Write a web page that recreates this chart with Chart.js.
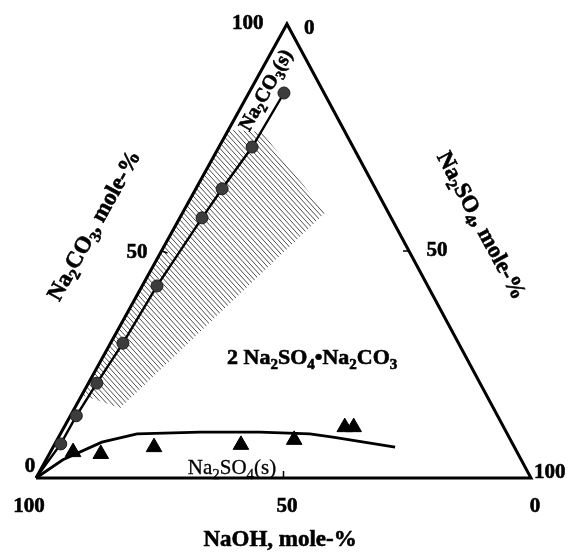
<!DOCTYPE html>
<html>
<head>
<meta charset="utf-8">
<script src="https://cdn.jsdelivr.net/npm/chart.js@4.4.1/dist/chart.umd.min.js"></script>
<style>
  html, body { margin: 0; padding: 0; background: #fff; }
  #wrap { width: 569px; height: 552px; }
</style>
</head>
<body>
<div id="wrap"><canvas id="ternary" width="569" height="552"></canvas></div>
<script>
// compositions in mole-% : Na2CO3 and Na2SO4 (NaOH is what is left)
const circleCO3 = [84.8, 72.9, 63.7, 57.3, 42.3, 29.7, 20.9, 13.7, 7.5];
const circleSO4 = [7.1, 6.7, 5.3, 4.5, 3.0, 2.5, 1.7, 1.2, 1.2];

const triangleCO3 = [5.7, 5.3, 6.8, 7.3, 8.4, 11.2, 11.2];
const triangleSO4 = [4.6, 10.4, 20.4, 37.7, 47.9, 56.7, 58.5];

// Na2CO3(s) line from the NaOH corner to the last circle
const co3LineCO3 = [0, 7.5, 13.7, 20.9, 29.7, 42.3, 57.3, 63.7, 72.9, 84.8];
const co3LineSO4 = [0, 1.2, 1.2, 1.7, 2.5, 3.0, 4.5, 5.3, 6.7, 7.1];

// Na2SO4(s) boundary
const curveCO3 = [0, 4.0, 7.9, 9.7, 10.1, 10.1, 9.7, 9.0, 6.8];
const curveSO4 = [0, 3.4, 9.3, 15.5, 28.0, 40.1, 50.4, 55.4, 69.1];

// hatched field
const hatchCO3 = [76.7, 76.2, 58.4, 15.4, 18.3];
const hatchSO4 = [0, 7.0, 28.8, 9.2, 0];

// corners NaOH -> Na2SO4 -> Na2CO3 -> NaOH
const cornerCO3 = [0, 0, 100, 0];
const cornerSO4 = [0, 100, 0, 0];

const tickValue = 50;

// the printed triangle leans a little: top corner sits at 50.7 % of the base
const SKEW = 0.507;
const toXY = (co3, so4) => ({ x: so4 + co3 * SKEW, y: co3 });
const pts = (co3, so4) => co3.map((c, i) => toXY(c, so4[i]));

const serif = '"Liberation Serif", "Times New Roman", serif';
const labels = [
  { text: "100", x: 42.8, y: 100.4, rot: 0, size: 21, bold: true },
  { text: "0", x: 55.2, y: 99.3, rot: 0, size: 21, bold: true },
  { text: "50", x: 20.4, y: 50.0, rot: 0, size: 21, bold: true },
  { text: "50", x: 81.0, y: 50.4, rot: 0, size: 21, bold: true },
  { text: "0", x: -1.2, y: 2.9, rot: 0, size: 21, bold: true },
  { text: "100", x: 103.8, y: 1.5, rot: 0, size: 21, bold: true },
  { text: "100", x: -1.4, y: -5.9, rot: 0, size: 21, bold: true },
  { text: "50", x: 50.7, y: -5.9, rot: 0, size: 21, bold: true },
  { text: "0", x: 100.8, y: -5.9, rot: 0, size: 21, bold: true },
  { text: "NaOH, mole-%", x: 49.3, y: -13.4, rot: 0, size: 23, bold: true },
  { text: "Na₂CO₃, mole-%", x: 11.6, y: 55.7, rot: -61, size: 23, bold: true },
  { text: "Na₂SO₄, mole-%", x: 90.1, y: 55.7, rot: 61.7, size: 23, bold: true },
  { text: "Na₂CO₃(s)", x: 46.3, y: 85.5, rot: -61, size: 20, bold: true },
  { text: "2 Na₂SO₄•Na₂CO₃", x: 55.8, y: 26.7, rot: 0, size: 22, bold: true },
  { text: "Na₂SO₄(s)", x: 39.6, y: 2.4, rot: 0, size: 21, bold: false },
];

const SUBS = "₀₁₂₃₄₅₆₇₈₉";

// splits a label into normal and subscript runs and draws it centred at 0,0
function drawRich(ctx, text, size, bold) {
  const runs = [];
  for (const ch of text) {
    const sub = SUBS.indexOf(ch);
    const isSub = sub >= 0;
    const c = isSub ? String(sub) : ch;
    const last = runs[runs.length - 1];
    if (last && last.sub === isSub) last.s += c;
    else runs.push({ s: c, sub: isSub });
  }
  const w = bold ? "bold " : "";
  const fMain = w + size + "px " + serif;
  const fSub = w + Math.round(size * 0.7) + "px " + serif;
  let total = 0;
  for (const r of runs) {
    ctx.font = r.sub ? fSub : fMain;
    r.w = ctx.measureText(r.s).width;
    total += r.w;
  }
  let x = -total / 2;
  ctx.textAlign = "left";
  ctx.textBaseline = "alphabetic";
  ctx.strokeStyle = "#000";
  ctx.lineWidth = bold ? 0.6 : 0.3;
  const base = size * 0.33;
  for (const r of runs) {
    ctx.font = r.sub ? fSub : fMain;
    const y = r.sub ? base + size * 0.22 : base;
    ctx.fillText(r.s, x, y);
    ctx.strokeText(r.s, x, y);
    x += r.w;
  }
}

function hatchPattern() {
  const c = document.createElement("canvas");
  c.width = 10;
  c.height = 11;
  const g = c.getContext("2d");
  g.strokeStyle = "#3a3a3a";
  g.lineWidth = 0.9;
  for (const x0 of [-10, -5, 0, 5, 10]) {
    g.beginPath();
    g.moveTo(x0, 0);
    g.lineTo(x0 + 10, 11);
    g.stroke();
  }
  return g.createPattern(c, "repeat");
}

const textPlugin = {
  id: "ternaryText",
  afterDraw(chart) {
    const ctx = chart.ctx;
    const sx = chart.scales.x, sy = chart.scales.y;
    // small ticks at 50 on each side
    ctx.save();
    ctx.strokeStyle = "#000";
    ctx.lineWidth = 1.5;
    const b = toXY(0, tickValue), l = toXY(tickValue, 0), r = toXY(tickValue, 100 - tickValue);
    const seg = (p, dx, dy) => {
      const x = sx.getPixelForValue(p.x), y = sy.getPixelForValue(p.y);
      ctx.beginPath();
      ctx.moveTo(x, y);
      ctx.lineTo(x + dx, y + dy);
      ctx.stroke();
    };
    seg(b, 0, -7);
    seg(l, 6, 2);
    seg(r, -6, 0);
    ctx.restore();

    for (const lb of labels) {
      ctx.save();
      ctx.translate(sx.getPixelForValue(lb.x), sy.getPixelForValue(lb.y));
      ctx.rotate((lb.rot * Math.PI) / 180);
      ctx.fillStyle = "#000";
      drawRich(ctx, lb.text, lb.size, lb.bold);
      ctx.restore();
    }
  },
};

new Chart(document.getElementById("ternary"), {
  type: "scatter",
  data: {
    datasets: [
      {
        data: pts(hatchCO3, hatchSO4),
        showLine: true,
        fill: "shape",
        backgroundColor: hatchPattern(),
        borderWidth: 0,
        pointRadius: 0,
        order: 10,
      },
      {
        data: pts(cornerCO3, cornerSO4),
        showLine: true,
        borderColor: "#000",
        borderWidth: 3,
        pointRadius: 0,
        order: 5,
      },
      {
        data: pts(co3LineCO3, co3LineSO4),
        showLine: true,
        borderColor: "#000",
        borderWidth: 2.4,
        pointRadius: 0,
        order: 4,
      },
      {
        data: pts(curveCO3, curveSO4),
        showLine: true,
        borderColor: "#000",
        borderWidth: 2.8,
        pointRadius: 0,
        order: 4,
      },
      {
        data: pts(circleCO3, circleSO4),
        pointStyle: "circle",
        pointRadius: 6,
        backgroundColor: "#3c3c3c",
        borderColor: "#1e1e1e",
        borderWidth: 1,
        order: 1,
      },
      {
        data: pts(triangleCO3, triangleSO4),
        pointStyle: "triangle",
        pointRadius: 9,
        backgroundColor: "#000",
        borderColor: "#000",
        borderWidth: 1,
        order: 1,
      },
    ],
  },
  options: {
    responsive: false,
    animation: false,
    clip: false,
    layout: { padding: { left: 36, right: 38, top: 24, bottom: 74 } },
    scales: {
      x: { type: "linear", min: 0, max: 100, display: false },
      y: { type: "linear", min: 0, max: 100, display: false },
    },
    plugins: { legend: { display: false }, tooltip: { enabled: false } },
    elements: { line: { tension: 0 } },
  },
  plugins: [textPlugin],
});
</script>
</body>
</html>
